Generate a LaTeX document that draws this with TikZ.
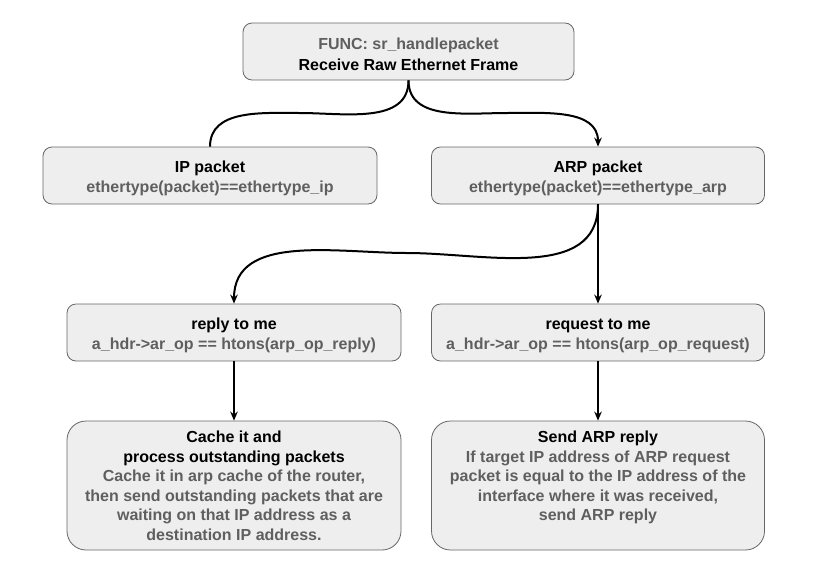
\documentclass[tikz,border=0pt]{standalone}
\usepackage{fontspec}
\setmainfont{Liberation Sans}
\usetikzlibrary{arrows.meta}
\definecolor{boxfill}{HTML}{EEEEEE}
\definecolor{boxline}{HTML}{666666}
\definecolor{txtgray}{HTML}{5F5F5F}
\newcommand\myfirststrut{\rule{0pt}{17.5pt}}
\tikzset{
  box/.style={draw=boxline, fill=boxfill, line width=0.8pt, rounded corners=9pt,
    minimum width=333pt, minimum height=57pt, inner sep=0pt, align=center,
    font=\fontsize{16}{20.5}\selectfont\bfseries},
  bigbox/.style={box, minimum height=129pt, rounded corners=19pt},
  boxtext/.style={inner sep=0pt, align=center, anchor=north,
    font=\fontsize{16}{19.6}\selectfont\bfseries},
  conn/.style={line width=2pt, black},
  arr/.style={conn, -{Stealth[length=9pt,width=7.5pt]}}
}
\begin{document}
\begin{tikzpicture}[x=1pt,y=-1pt]
\useasboundingbox (0,0) rectangle (816,576);
\fill[white] (0,0) rectangle (816,576);

\node[box, minimum width=331pt] (top) at (408.5,51.5)
  {\myfirststrut\textcolor{txtgray}{FUNC: sr\_handlepacket}\\Receive Raw Ethernet Frame};
\node[box, minimum width=334pt] (ip) at (210,175.5)
  {\myfirststrut IP packet\\\textcolor{txtgray}{ethertype(packet)==ethertype\_ip}};
\node[box] (arp) at (598,175.5)
  {\myfirststrut ARP packet\\\textcolor{txtgray}{ethertype(packet)==ethertype\_arp}};
\node[box, minimum width=334pt] (reply) at (234,332.5)
  {\myfirststrut reply to me\\\textcolor{txtgray}{a\_hdr->ar\_op == htons(arp\_op\_reply)}};
\node[box] (req) at (598,332.5)
  {\myfirststrut request to me\\\textcolor{txtgray}{a\_hdr->ar\_op == htons(arp\_op\_request)}};
\node[bigbox, minimum width=334pt] (cache) at (234,485.5) {};
\node[bigbox] (send) at (598,485.5) {};

\node[boxtext] (cachetxt) at ([yshift=-10pt]cache.north)
  {Cache it and\\process outstanding packets\\
   \textcolor{txtgray}{Cache it in arp cache of the router,}\\
   \textcolor{txtgray}{then send outstanding packets that are}\\
   \textcolor{txtgray}{waiting on that IP address as a}\\
   \textcolor{txtgray}{destination IP address.}};
\node[boxtext] (sendtxt) at ([yshift=-10pt]send.north)
  {Send ARP reply\\
   \textcolor{txtgray}{If target IP address of ARP request}\\
   \textcolor{txtgray}{packet is equal to the IP address of the}\\
   \textcolor{txtgray}{interface where it was received,}\\
   \textcolor{txtgray}{send ARP reply}};

\coordinate (m1) at (300,113);
\coordinate (m2) at (507,113);
\coordinate (m3) at (407,253);

\draw[conn] (top.south) to[out=-90,in=0] (m1) to[out=180,in=90] (ip.north);
\draw[arr] (top.south) to[out=-90,in=180] (m2) to[out=0,in=90] (arp.north);
\draw[arr] (arp.south) to[out=-90,in=0] (m3) to[out=180,in=90] (reply.north);
\draw[arr] (arp.south) -- (req.north);
\draw[arr] (reply.south) -- (cache.north);
\draw[arr] (req.south) -- (send.north);
\end{tikzpicture}
\end{document}
